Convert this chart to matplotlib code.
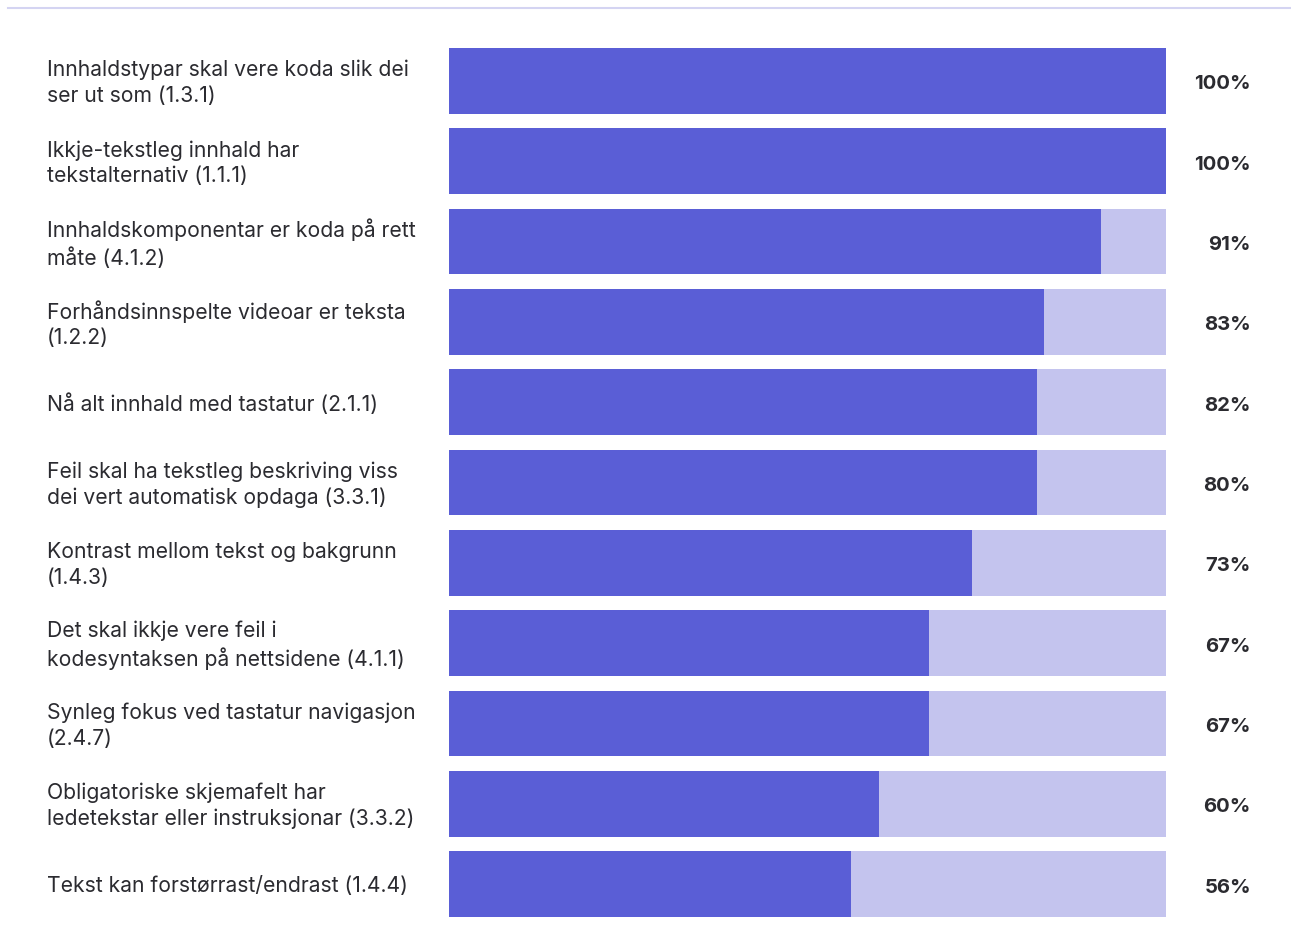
import matplotlib.pyplot as plt
from matplotlib.lines import Line2D
from matplotlib.transforms import blended_transform_factory, offset_copy

plt.rcParams['font.family'] = ['Inter', 'DejaVu Sans']

labels = [
    "Innhaldstypar skal vere koda slik dei\nser ut som (1.3.1)",
    "Ikkje-tekstleg innhald har\ntekstalternativ (1.1.1)",
    "Innhaldskomponentar er koda på rett\nmåte (4.1.2)",
    "Forhåndsinnspelte videoar er teksta\n(1.2.2)",
    "Nå alt innhald med tastatur (2.1.1)",
    "Feil skal ha tekstleg beskriving viss\ndei vert automatisk opdaga (3.3.1)",
    "Kontrast mellom tekst og bakgrunn\n(1.4.3)",
    "Det skal ikkje vere feil i\nkodesyntaksen på nettsidene (4.1.1)",
    "Synleg fokus ved tastatur navigasjon\n(2.4.7)",
    "Obligatoriske skjemafelt har\nledetekstar eller instruksjonar (3.3.2)",
    "Tekst kan forstørrast/endrast (1.4.4)",
]
# bar lengths as drawn, and the percentage printed next to each bar
bar_values = [100, 100, 91, 83, 82, 82, 73, 67, 67, 60, 56]
pct_labels = ["100%", "100%", "91%", "83%", "82%", "80%", "73%", "67%", "67%", "60%", "56%"]

dark = '#5a5ed6'
light = '#c4c4ee'
text_col = '#2b2b30'

fig = plt.figure(figsize=(12.91, 9.49), dpi=100)
ax = fig.add_axes([449 / 1291, 1 - 917 / 949, (1166 - 449) / 1291, (917 - 48) / 949])

y = list(range(len(labels)))
ax.barh(y, [100] * len(y), height=0.82, color=light)
ax.barh(y, bar_values, height=0.82, color=dark)
ax.set_xlim(0, 100)
ax.set_ylim(len(y) - 1 + 0.41, -0.41)
ax.axis('off')

tr_left = blended_transform_factory(fig.transFigure, ax.transData)
tr_lab = offset_copy(tr_left, fig=fig, y=-1.5, units='points')
tr_pct = offset_copy(tr_left, fig=fig, y=-2.5, units='points')
for i, lab in enumerate(labels):
    ax.text(47 / 1291, i, lab, transform=tr_lab, ha='left', va='center',
            fontsize=15.2, color=text_col, linespacing=1.35)
    ax.text(1251 / 1291, i, pct_labels[i], transform=tr_pct, ha='right', va='center',
            fontsize=14.6, fontweight='bold', color=text_col)

fig.add_artist(Line2D([8 / 1291, 1], [1 - 8 / 949, 1 - 8 / 949], transform=fig.transFigure,
                      color='#d4d4f2', lw=1.5))

fig.savefig('out.png', dpi=100)
